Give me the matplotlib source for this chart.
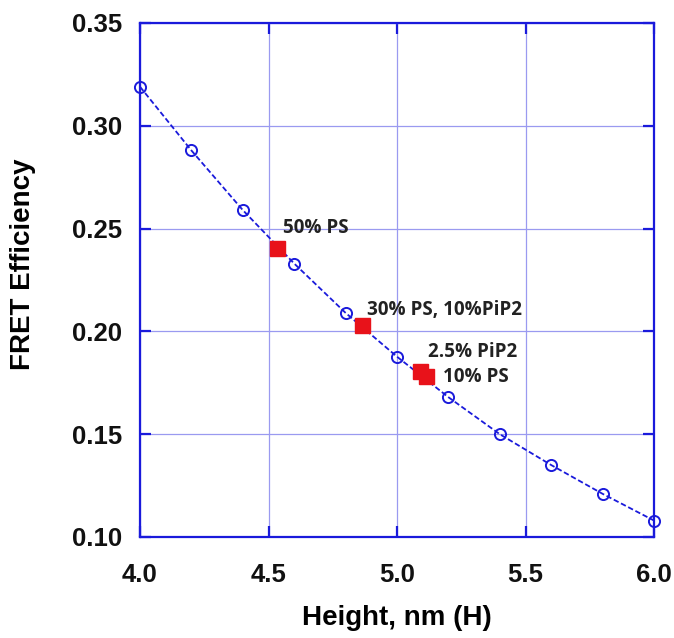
import matplotlib
matplotlib.use("Agg")
import matplotlib.pyplot as plt

height = [4.0, 4.2, 4.4, 4.6, 4.8, 5.0, 5.2, 5.4, 5.6, 5.8, 6.0]
fret = [0.319, 0.288, 0.259, 0.233, 0.209, 0.1877, 0.168, 0.150, 0.135, 0.121, 0.108]

exp_h = [4.535, 4.862, 5.089, 5.111]
exp_e = [0.2406, 0.2033, 0.1805, 0.1783]

labels = ["50% PS", "30% PS, 10%PiP2", "2.5% PiP2", "10% PS"]
label_pos = [(4.556, 0.2503), (4.883, 0.2104), (5.121, 0.190), (5.179, 0.1778)]

xticks = [4.0, 4.5, 5.0, 5.5, 6.0]
yticks = [0.10, 0.15, 0.20, 0.25, 0.30, 0.35]

blue = "#1a1adb"
fig = plt.figure(figsize=(6.74, 6.38), dpi=100)
ax = fig.add_axes([140/674, 1-537/638, 514/674, 514/638])

ax.grid(True, color="#9a9af0", linewidth=0.9)
ax.set_axisbelow(True)
ax.plot(height, fret, linestyle=(0, (3, 1.5)), color=blue, linewidth=1.3,
        marker="o", markersize=8, markerfacecolor="none", markeredgecolor=blue,
        markeredgewidth=1.4, clip_on=False, zorder=3)
ax.plot(exp_h, exp_e, linestyle="none", marker="s", markersize=10.8,
        color="#e8121a", zorder=4)

for t, (x, y) in zip(labels, label_pos):
    ax.text(x, y, t, fontsize=13.6, fontweight="bold", family="Open Sans",
            color="#222222", ha="left", va="center")

ax.set_xlim(4.0, 6.0)
ax.set_ylim(0.10, 0.35)
ax.set_xticks(xticks)
ax.set_yticks(yticks)
ax.set_xticklabels([f"{v:.1f}" for v in xticks])
ax.set_yticklabels([f"{v:.2f}" for v in yticks])

for s in ax.spines.values():
    s.set_color(blue)
    s.set_linewidth(1.6)
ax.tick_params(direction="in", length=8, width=1.6, color=blue,
               top=True, right=True, labelsize=18.5)
ax.tick_params(axis="x", pad=19)
ax.tick_params(axis="y", pad=13)
for lab in ax.get_xticklabels() + ax.get_yticklabels():
    lab.set_fontweight("bold")
    lab.set_family("Liberation Sans")
    lab.set_color("#111111")

ax.set_xlabel("Height, nm (H)", fontsize=20, fontweight="bold",
              family="Liberation Sans", labelpad=13)
ax.set_ylabel("FRET Efficiency", fontsize=20, fontweight="bold",
              family="Liberation Sans")
ax.yaxis.set_label_coords(-0.203, 0.531)

fig.savefig("out.png", dpi=100)
